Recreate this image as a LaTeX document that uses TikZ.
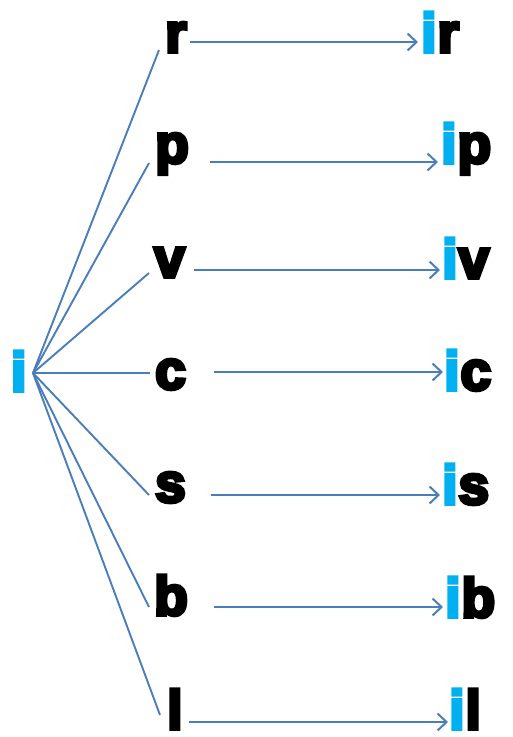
\documentclass[tikz,border=0pt]{standalone}
\usepackage{fontspec}
\usetikzlibrary{arrows.meta}
\newfontfamily\heavy{Liberation Sans Bold}[FakeBold=6.5]
\definecolor{icyan}{HTML}{00B0F0}
\definecolor{lblue}{HTML}{4A7EBB}
\begin{document}
\begin{tikzpicture}[x=1pt,y=-1pt,
  letter/.style={anchor=base west,inner sep=0pt,font=\heavy\fontsize{55}{60}\selectfont,text=black},
  spoke/.style={draw=lblue,line width=1.9pt},
  conv/.style={draw=lblue,line width=2pt,-{Straight Barb[length=9pt,width=17pt,line width=2pt]}}]
\useasboundingbox (0,0) rectangle (512,737);
% hub
\node[letter,text=icyan] (i) at (11,391) {i};
\coordinate (hub) at (33,373);
% left column
\node[letter] (r) at (165,52) {r};
\node[letter] (p) at (155,163) {p};
\node[letter] (v) at (154,277) {v};
\node[letter] (c) at (155,389) {c};
\node[letter] (s) at (155,502) {s};
\node[letter] (b) at (154,615) {b};
\node[letter] (l) at (167,729) {l};
% right column
\node[letter] (ir) at (421,52) {\textcolor{icyan}{i}\kern1pt r};
\node[letter] (ip) at (441,163) {\textcolor{icyan}{i}\kern1pt p};
\node[letter] (iv) at (442,278) {\textcolor{icyan}{i}\kern1pt v};
\node[letter] (ic) at (444,390) {\textcolor{icyan}{i}\kern1pt c};
\node[letter] (is) at (442,504) {\textcolor{icyan}{i}\kern1pt s};
\node[letter] (ib) at (445,617) {\textcolor{icyan}{i}\kern1pt b};
\node[letter] (il) at (449,729) {\textcolor{icyan}{i}\kern1pt l};
% spoke ends
\coordinate (er) at (159,50);
\coordinate (ep) at (149,163);
\coordinate (ev) at (149,273);
\coordinate (ec) at (150,373);
\coordinate (es) at (149,495);
\coordinate (eb) at (149,607);
\coordinate (el) at (160,715);
\foreach \e in {er,ep,ev,ec,es,eb,el} \draw[spoke] (hub) -- (\e);
% arrows
\coordinate (ar0) at (190,42);  \coordinate (ar1) at (418,42);
\coordinate (ap0) at (210,162); \coordinate (ap1) at (438,162);
\coordinate (av0) at (194,270); \coordinate (av1) at (440,270);
\coordinate (ac0) at (214,372); \coordinate (ac1) at (443,372);
\coordinate (as0) at (211,495); \coordinate (as1) at (440,495);
\coordinate (ab0) at (214,607); \coordinate (ab1) at (443,607);
\coordinate (al0) at (189,722); \coordinate (al1) at (448,722);
\foreach \a in {r,p,v,c,s,b,l} \draw[conv] (a\a0) -- (a\a1);
\end{tikzpicture}
\end{document}
